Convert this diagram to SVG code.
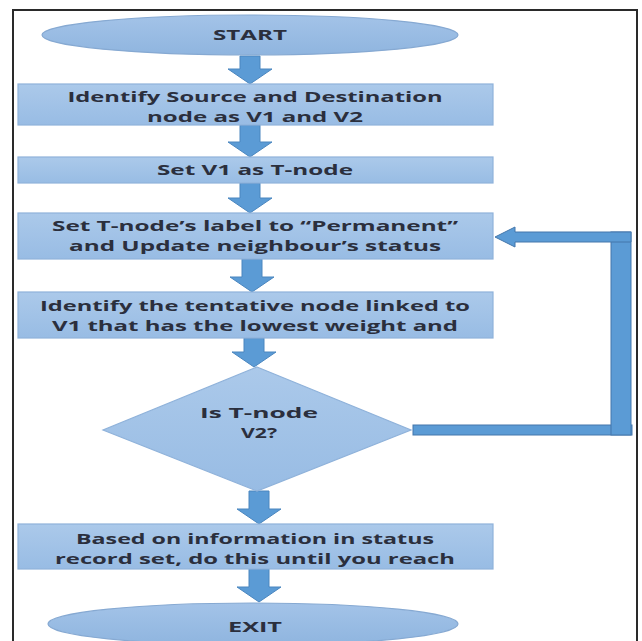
<svg xmlns="http://www.w3.org/2000/svg" width="642" height="641" viewBox="0 0 642 641">
<defs>
<linearGradient id="gBox" x1="0" y1="0" x2="0" y2="1">
<stop offset="0" stop-color="#abc9ea"/>
<stop offset="1" stop-color="#98bce4"/>
</linearGradient>
<linearGradient id="gEll" x1="0" y1="0" x2="0" y2="1">
<stop offset="0" stop-color="#a3c3e8"/>
<stop offset="1" stop-color="#8fb5df"/>
</linearGradient>
<style>
.box{fill:url(#gBox);stroke:#8fb2da;stroke-width:1.2}
.ell{fill:url(#gEll);stroke:#86a9d2;stroke-width:1.2}
.arr{fill:#5b9bd5;stroke:#4a86bf;stroke-width:1}
.bar{fill:#5b9bd5;stroke:#4477ab;stroke-width:1}
.t{font-family:"Open Sans","DejaVu Sans",sans-serif;font-weight:700;font-size:15px;fill:#2b2f3d;text-anchor:middle}
</style>
</defs>
<rect x="0" y="0" width="642" height="641" fill="#ffffff"/>
<rect x="13" y="10" width="624" height="640" fill="none" stroke="#2a2a2a" stroke-width="2"/>

<g id="connectors">
<polygon class="arr" points="240,56 260,56 260,69 272,69 250,84 228,69 240,69"/>
<polygon class="arr" points="240,125 260,125 260,142 272,142 250,157 228,142 240,142"/>
<polygon class="arr" points="240,183 260,183 260,198 272,198 250,213 228,198 240,198"/>
<polygon class="arr" points="242,259 262,259 262,277 274,277 252,292 230,277 242,277"/>
<polygon class="arr" points="244,338 264,338 264,352 276,352 254,367 232,352 244,352"/>
<polygon class="arr" points="249,491 269,491 269,509 281,509 259,524 237,509 249,509"/>
<polygon class="arr" points="249,569 269,569 269,587 281,587 259,602 237,587 249,587"/>
<rect class="bar" x="413" y="425" width="219" height="10"/>
<rect class="bar" x="611" y="232" width="20" height="203"/>
<polygon class="bar" points="631,232 631,242 515,242 515,247 495,237 515,227 515,232"/>
</g>

<g id="start">
<ellipse class="ell" cx="250" cy="35" rx="208" ry="20"/>
<text class="t" x="250" y="40" textLength="74" lengthAdjust="spacingAndGlyphs">START</text>
</g>

<g id="identify">
<rect class="box" x="18" y="84" width="475" height="41"/>
<text class="t" x="255" y="102" textLength="375" lengthAdjust="spacingAndGlyphs">Identify Source and Destination</text>
<text class="t" x="255" y="122" textLength="216" lengthAdjust="spacingAndGlyphs">node as V1 and V2</text>
</g>

<g id="setv1">
<rect class="box" x="18" y="157" width="475" height="26"/>
<text class="t" x="255" y="175" textLength="196" lengthAdjust="spacingAndGlyphs">Set V1 as T-node</text>
</g>

<g id="permanent">
<rect class="box" x="18" y="213" width="475" height="46"/>
<text class="t" x="255" y="231" textLength="406" lengthAdjust="spacingAndGlyphs">Set T-node’s label to “Permanent”</text>
<text class="t" x="255" y="251" textLength="372" lengthAdjust="spacingAndGlyphs">and Update neighbour’s status</text>
</g>

<g id="tentative">
<rect class="box" x="18" y="292" width="475" height="46"/>
<text class="t" x="255" y="311" textLength="430" lengthAdjust="spacingAndGlyphs">Identify the tentative node linked to</text>
<text class="t" x="255" y="331" textLength="406" lengthAdjust="spacingAndGlyphs">V1 that has the lowest weight and</text>
</g>

<g id="decision">
<polygon class="box" points="257,367 411,430 257,491 103,430"/>
<text class="t" x="259" y="418" textLength="118" lengthAdjust="spacingAndGlyphs">Is T-node</text>
<text class="t" x="259" y="438" textLength="36" lengthAdjust="spacingAndGlyphs">V2?</text>
</g>

<g id="based">
<rect class="box" x="18" y="524" width="475" height="45"/>
<text class="t" x="255" y="544" textLength="358" lengthAdjust="spacingAndGlyphs">Based on information in status</text>
<text class="t" x="255" y="564" textLength="400" lengthAdjust="spacingAndGlyphs">record set, do this until you reach</text>
</g>

<g id="exit">
<ellipse class="ell" cx="253" cy="624" rx="205" ry="21"/>
<text class="t" x="255" y="632" textLength="54" lengthAdjust="spacingAndGlyphs">EXIT</text>
</g>
</svg>
